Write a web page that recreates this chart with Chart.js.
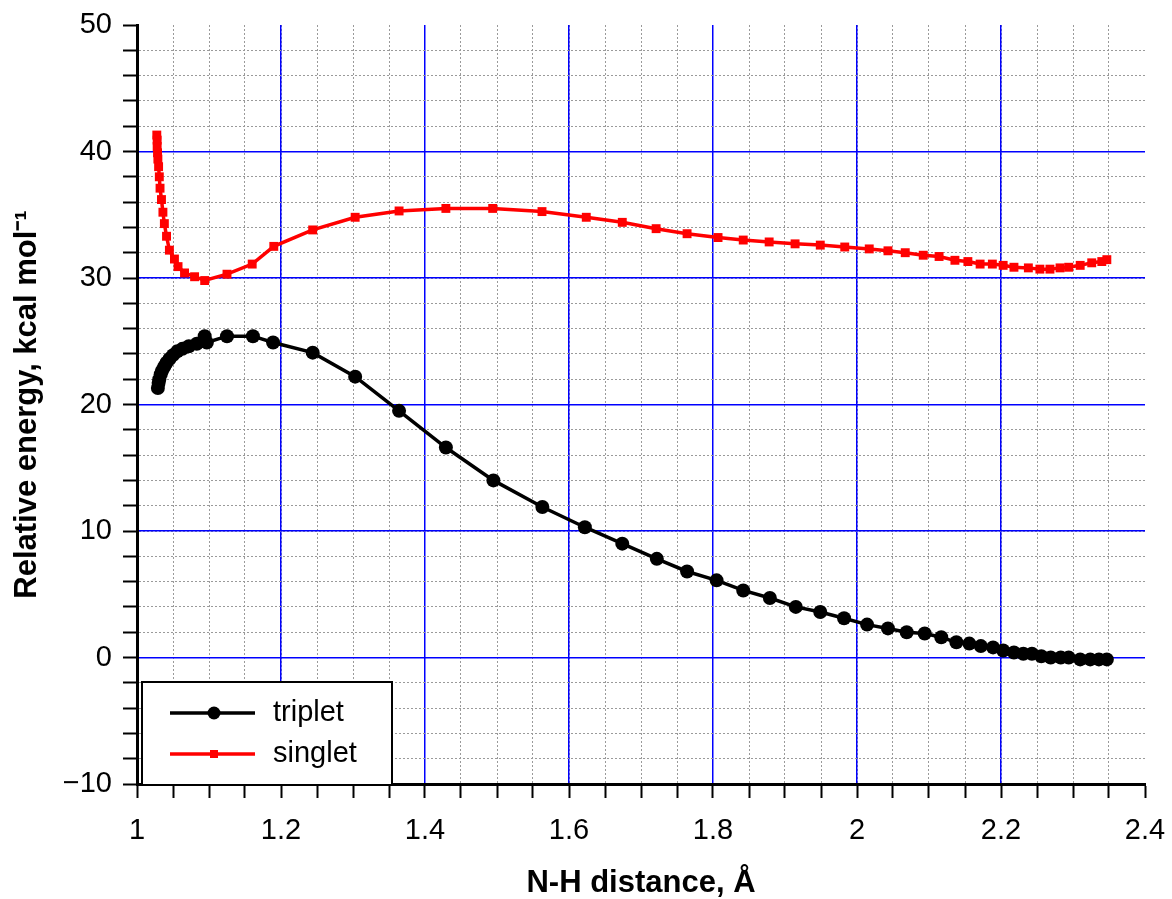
<!DOCTYPE html>
<html><head><meta charset="utf-8">
<style>html,body{margin:0;padding:0;background:#fff}canvas{display:block}</style>
<script src="https://cdn.jsdelivr.net/npm/chart.js@4.4.0/dist/chart.umd.min.js"></script>
</head><body>
<canvas id="c" width="1172" height="899"></canvas>
<script>
// ---- data ----
const seriesNames = ['triplet', 'singlet'];
const tripletX = [1.029,1.030,1.031,1.033,1.035,1.038,1.041,1.045,1.050,1.056,1.063,1.072,1.083,1.094,1.097,1.125,1.161,1.189,1.244,1.303,1.364,1.429,1.495,1.563,1.622,1.674,1.722,1.764,1.805,1.842,1.879,1.915,1.949,1.982,2.014,2.043,2.069,2.094,2.117,2.138,2.156,2.172,2.189,2.203,2.218,2.231,2.243,2.256,2.269,2.283,2.294,2.310,2.324,2.336,2.347];
const tripletY = [21.3,21.7,22.0,22.4,22.7,23.0,23.3,23.6,23.9,24.2,24.4,24.6,24.8,25.4,24.9,25.4,25.4,24.9,24.1,22.2,19.5,16.6,14.0,11.9,10.3,9.0,7.8,6.8,6.1,5.3,4.7,4.0,3.6,3.1,2.6,2.3,2.0,1.9,1.6,1.2,1.1,0.9,0.8,0.55,0.4,0.3,0.3,0.1,0.0,0.0,0.0,-0.15,-0.15,-0.15,-0.15];
const singletX = [1.0275,1.028,1.028,1.0285,1.029,1.030,1.031,1.032,1.034,1.036,1.038,1.041,1.045,1.052,1.057,1.066,1.080,1.094,1.125,1.160,1.190,1.244,1.303,1.364,1.429,1.494,1.5625,1.624,1.674,1.721,1.764,1.807,1.842,1.878,1.914,1.949,1.983,2.017,2.043,2.067,2.092,2.114,2.136,2.154,2.171,2.188,2.203,2.218,2.238,2.254,2.268,2.282,2.294,2.310,2.326,2.340,2.347];
const singletY = [41.3,40.9,40.4,39.9,39.4,38.8,38.0,37.1,36.2,35.2,34.3,33.3,32.2,31.5,30.9,30.4,30.1,29.8,30.3,31.1,32.5,33.8,34.8,35.3,35.5,35.5,35.25,34.8,34.4,33.9,33.5,33.2,33.0,32.85,32.7,32.6,32.45,32.3,32.15,32.0,31.8,31.7,31.4,31.3,31.1,31.1,31.0,30.85,30.8,30.7,30.7,30.8,30.85,31.0,31.2,31.3,31.45];
const xRange = [1, 2.4];
const yRange = [-10, 50];
const xMajorStep = 0.2, xMinorStep = 0.05;
const yMajorStep = 10, yMinorStep = 2;
const xTitle = 'N-H distance, Å';
const yTitle = 'Relative energy, kcal mol⁻¹';

// ---- styling ----
const FONT = '"Liberation Sans", Arial, Helvetica, sans-serif';
const MINOR = '#9a9a9a';
const MAJOR = '#0000ff';
const pts = (xs, ys) => xs.map((x, i) => ({x: x, y: ys[i]}));
const isMul = (v, s) => Math.abs(v / s - Math.round(v / s)) < 1e-6;
const atEdge = (v, r) => Math.abs(v - r[0]) < 1e-9 || Math.abs(v - r[1]) < 1e-9;
const fmtNum = v => { const r = Number(v.toFixed(3)); return r < 0 ? '\u2212' + Math.abs(r) : String(r); };

const legendPlugin = {
  id: 'boxLegend',
  afterDatasetsDraw(chart) {
    const {ctx, chartArea} = chart;
    const x0 = chartArea.left + 5, y1 = chartArea.bottom + 1;
    const w = 250, h = 103, y0 = y1 - h;
    ctx.save();
    ctx.fillStyle = '#fff';
    ctx.fillRect(x0, y0, w, h);
    ctx.lineWidth = 2;
    ctx.strokeStyle = '#000';
    ctx.strokeRect(x0, y0, w, h);
    chart.data.datasets.forEach((ds, i) => {
      const cy = y0 + 31 + i * 41;
      ctx.strokeStyle = ds.borderColor;
      ctx.lineWidth = 3.5;
      ctx.beginPath();
      ctx.moveTo(x0 + 28, cy);
      ctx.lineTo(x0 + 113, cy);
      ctx.stroke();
      ctx.fillStyle = ds.borderColor;
      if (ds.pointStyle === 'circle') {
        ctx.beginPath(); ctx.arc(x0 + 72, cy, 6.5, 0, Math.PI * 2); ctx.fill();
      } else {
        ctx.fillRect(x0 + 68, cy - 4, 8, 8);
      }
      ctx.fillStyle = '#000';
      ctx.font = '29px ' + FONT;
      ctx.textBaseline = 'middle';
      ctx.textAlign = 'left';
      ctx.fillText(ds.label, x0 + 131, cy);
    });
    ctx.restore();
  }
};

new Chart(document.getElementById('c'), {
  type: 'line',
  data: {
    datasets: [
      { label: seriesNames[0], data: pts(tripletX, tripletY), borderColor: '#000', backgroundColor: '#000',
        borderWidth: 3.5, pointStyle: 'circle', pointRadius: 7, pointBorderWidth: 0, tension: 0, fill: false },
      { label: seriesNames[1], data: pts(singletX, singletY), borderColor: '#ff0000', backgroundColor: '#ff0000',
        borderWidth: 3.5, pointStyle: 'rect', pointRadius: 6.3, pointBorderWidth: 0, tension: 0, fill: false }
    ]
  },
  options: {
    responsive: false, animation: false, parsing: true,
    layout: { padding: { top: 25, right: 27, left: 0, bottom: 0 } },
    plugins: { legend: { display: false }, tooltip: { enabled: false } },
    scales: {
      x: {
        type: 'linear', position: 'bottom', min: xRange[0], max: xRange[1],
        ticks: { stepSize: xMinorStep, autoSkip: false, maxRotation: 0, padding: 16, color: '#000',
                 font: { family: FONT, size: 29 },
                 callback: v => isMul(v, xMajorStep) ? fmtNum(v) : '' },
        grid: { color: c => (c.tick && atEdge(c.tick.value, xRange)) ? 'rgba(0,0,0,0)' : MINOR,
                lineWidth: 1, tickColor: '#000', tickWidth: 2, tickLength: 14 },
        border: { display: true, color: '#000', width: 3, dash: [2, 2] },
        title: { display: true, text: xTitle, color: '#000', font: { family: FONT, size: 31, weight: 'bold' },
                 padding: { top: 0, bottom: -3 } },
        afterFit: s => { s.height = 115; s.paddingLeft = 0; s.paddingRight = 0; }
      },
      xMaj: {
        type: 'linear', position: 'bottom', min: xRange[0], max: xRange[1],
        ticks: { display: false, stepSize: xMajorStep },
        grid: { drawTicks: false, color: c => (c.tick && atEdge(c.tick.value, xRange)) ? 'rgba(0,0,0,0)' : MAJOR, lineWidth: 1.5 },
        border: { display: false },
        afterFit: s => { s.height = 0; s.paddingLeft = 0; s.paddingRight = 0; }
      },
      y: {
        type: 'linear', position: 'left', min: yRange[0], max: yRange[1],
        ticks: { stepSize: yMinorStep, autoSkip: false, padding: 11, color: '#000',
                 font: { family: FONT, size: 29 },
                 callback: v => isMul(v, yMajorStep) ? fmtNum(v) : '' },
        grid: { color: c => (c.tick && atEdge(c.tick.value, yRange)) ? 'rgba(0,0,0,0)' : MINOR,
                lineWidth: 1, tickColor: '#000', tickWidth: 2, tickLength: 14 },
        border: { display: true, color: '#000', width: 3, dash: [2, 2] },
        title: { display: true, text: yTitle, color: '#000', font: { family: FONT, size: 31, weight: 'bold' },
                 padding: { top: 9, bottom: 0 } },
        afterFit: s => { s.width = 137; s.paddingTop = 0; s.paddingBottom = 0; }
      },
      yMaj: {
        type: 'linear', position: 'left', min: yRange[0], max: yRange[1],
        ticks: { display: false, stepSize: yMajorStep },
        grid: { drawTicks: false, color: c => (c.tick && atEdge(c.tick.value, yRange)) ? 'rgba(0,0,0,0)' : MAJOR, lineWidth: 1.5 },
        border: { display: false },
        afterFit: s => { s.width = 0; s.paddingTop = 0; s.paddingBottom = 0; }
      }
    }
  },
  plugins: [legendPlugin]
});
</script>
</body></html>
